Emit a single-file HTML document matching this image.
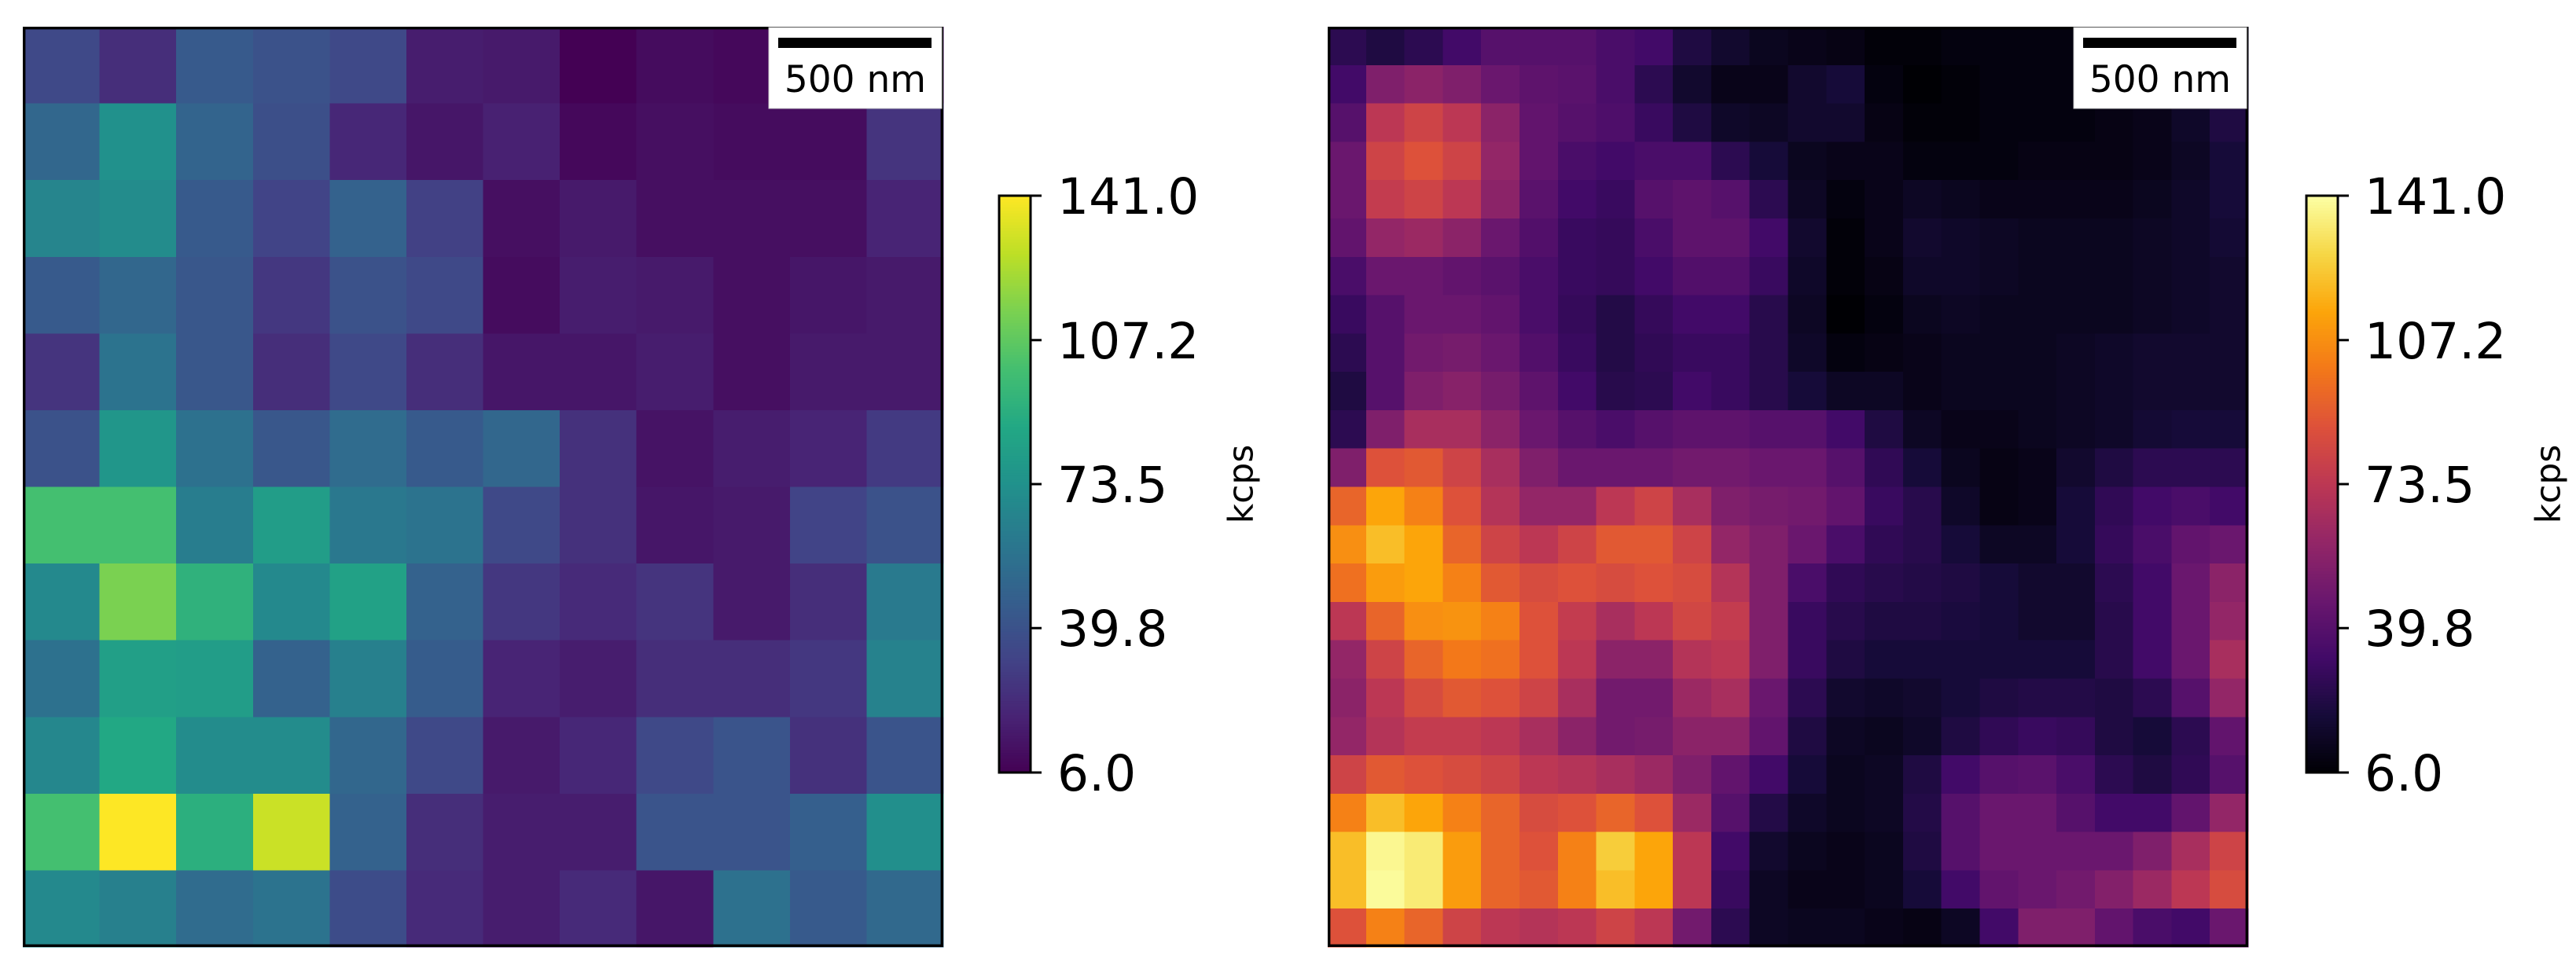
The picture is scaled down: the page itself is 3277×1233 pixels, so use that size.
<!DOCTYPE html>
<html><head><meta charset="utf-8"><style>
html,body{margin:0;padding:0;background:#fff;}
svg{display:block;}
text{font-family:"DejaVu Sans","Liberation Sans",sans-serif;fill:#000;}
</style></head><body>
<svg id="fig" width="3277" height="1233" viewBox="0 0 3277 1233" xmlns="http://www.w3.org/2000/svg">
<g id="left-panel"></g>
<g id="right-panel"></g>
</svg>
<script>
// colour scale range (kcps)
const vmin = 6.0;
const vmax = 141.0;
const tickValues = [6.0, 39.8, 73.5, 107.2, 141.0];
const tickLabels = ["6.0", "39.8", "73.5", "107.2", "141.0"];
const cbarLabel = "kcps";
const scaleLabel = "500 nm";

// left map: 12x12 intensities, expressed as fraction of colour range (0 = 6 kcps, 1 = 141 kcps)
const leftRows = [
[.22,.13,.28,.25,.22,.08,.07,.00,.03,.02,.03,.04],
[.33,.50,.32,.24,.11,.06,.09,.02,.04,.03,.03,.15],
[.45,.48,.28,.20,.31,.19,.04,.07,.04,.04,.04,.10],
[.28,.33,.27,.16,.25,.22,.03,.08,.07,.04,.06,.07],
[.15,.38,.27,.13,.22,.13,.06,.06,.08,.04,.07,.07],
[.25,.52,.37,.27,.35,.28,.33,.14,.05,.08,.10,.17],
[.70,.70,.42,.55,.40,.38,.22,.14,.06,.07,.20,.25],
[.47,.80,.64,.47,.57,.31,.16,.12,.15,.07,.13,.41],
[.37,.56,.55,.31,.43,.29,.10,.08,.13,.13,.16,.44],
[.46,.60,.48,.48,.33,.22,.07,.11,.22,.26,.14,.26],
[.70,1.0,.63,.92,.31,.13,.08,.08,.26,.26,.30,.49],
[.47,.43,.35,.38,.23,.12,.08,.12,.06,.37,.28,.34]
];

// right map: 24x24 intensities, fraction of colour range
const rightRows = [
[.15,.12,.15,.20,.25,.25,.25,.22,.20,.12,.08,.05,.04,.03,.01,.01,.02,.02,.02,.02,.02,.02,.03,.05],
[.20,.35,.38,.35,.30,.27,.26,.22,.15,.08,.04,.04,.08,.10,.02,.00,.01,.02,.02,.02,.02,.03,.05,.08],
[.25,.50,.55,.50,.38,.28,.25,.23,.18,.12,.07,.06,.08,.08,.03,.01,.01,.02,.02,.02,.03,.04,.07,.12],
[.30,.55,.60,.55,.40,.28,.22,.20,.22,.22,.15,.10,.05,.04,.04,.02,.02,.02,.03,.03,.03,.04,.06,.10],
[.30,.52,.55,.50,.38,.26,.20,.18,.25,.27,.25,.15,.06,.02,.04,.06,.05,.04,.04,.04,.04,.05,.07,.10],
[.28,.40,.42,.38,.30,.24,.18,.17,.22,.27,.27,.20,.08,.01,.04,.08,.07,.06,.05,.05,.05,.06,.07,.09],
[.22,.30,.30,.28,.26,.22,.18,.17,.20,.24,.24,.18,.07,.01,.03,.07,.07,.06,.05,.05,.05,.06,.07,.08],
[.18,.25,.30,.30,.28,.22,.17,.13,.17,.20,.20,.14,.06,.00,.02,.05,.06,.05,.05,.05,.05,.06,.07,.08],
[.15,.25,.32,.33,.30,.24,.18,.13,.16,.18,.18,.14,.07,.02,.03,.04,.05,.05,.05,.06,.07,.08,.08,.08],
[.12,.25,.35,.37,.33,.27,.20,.14,.15,.20,.18,.14,.10,.06,.06,.04,.05,.05,.05,.06,.07,.08,.08,.08],
[.15,.35,.45,.45,.38,.30,.25,.22,.25,.27,.27,.25,.25,.20,.12,.06,.04,.04,.05,.06,.07,.09,.10,.10],
[.35,.60,.62,.55,.45,.35,.30,.30,.30,.32,.32,.30,.30,.25,.16,.10,.05,.03,.04,.08,.12,.15,.15,.15],
[.65,.80,.72,.60,.48,.40,.40,.50,.55,.45,.35,.33,.32,.28,.18,.14,.07,.03,.04,.10,.16,.20,.22,.20],
[.75,.85,.80,.65,.55,.50,.55,.62,.62,.55,.40,.35,.30,.22,.16,.14,.10,.06,.06,.10,.17,.22,.28,.30],
[.68,.78,.80,.72,.62,.58,.60,.58,.60,.58,.48,.35,.22,.16,.14,.13,.12,.10,.08,.08,.15,.20,.30,.38],
[.50,.65,.75,.76,.72,.60,.52,.45,.50,.56,.52,.35,.18,.14,.12,.12,.11,.10,.08,.08,.14,.20,.30,.40],
[.40,.55,.65,.70,.68,.60,.50,.38,.38,.48,.50,.35,.18,.12,.10,.10,.10,.10,.10,.10,.14,.20,.30,.45],
[.38,.50,.58,.62,.60,.55,.45,.32,.32,.42,.45,.30,.15,.08,.07,.08,.10,.12,.13,.13,.12,.15,.25,.40],
[.40,.48,.52,.52,.50,.45,.38,.32,.33,.38,.38,.28,.12,.06,.05,.07,.12,.16,.18,.17,.12,.10,.15,.28],
[.55,.62,.60,.58,.55,.50,.48,.45,.42,.35,.28,.20,.10,.05,.06,.12,.20,.25,.26,.22,.15,.12,.16,.25],
[.72,.85,.80,.72,.65,.58,.60,.65,.60,.42,.25,.13,.07,.05,.06,.13,.25,.30,.30,.25,.20,.20,.28,.40],
[.85,.98,.95,.78,.65,.60,.72,.88,.80,.50,.20,.08,.05,.04,.05,.12,.25,.30,.30,.30,.30,.35,.45,.55],
[.85,.99,.95,.78,.65,.62,.72,.85,.80,.50,.18,.06,.04,.04,.05,.10,.20,.28,.30,.32,.36,.42,.50,.58],
[.60,.72,.65,.55,.50,.48,.50,.55,.50,.32,.15,.06,.05,.05,.04,.03,.06,.20,.35,.35,.28,.22,.20,.30]
];

const VIRIDIS = ["#440154","#482475","#414487","#355f8d","#2a788e","#21918c","#22a884","#44bf70","#7ad151","#bddf26","#fde725"];
const INFERNO = ["#000004","#160b39","#420a68","#6a176e","#932667","#bc3754","#dd513a","#f37819","#fca50a","#f6d746","#fcffa4"];
function hex(h){return [1,3,5].map(i=>parseInt(h.substr(i,2),16));}
function cmap(stops,t){
  t=Math.max(0,Math.min(1,t));
  const p=t*(stops.length-1), i=Math.min(stops.length-2,Math.floor(p)), f=p-i;
  const a=hex(stops[i]), b=hex(stops[i+1]);
  return "rgb("+a.map((v,k)=>Math.round(v+(b[k]-v)*f)).join(",")+")";
}
const NS="http://www.w3.org/2000/svg";
function el(tag,attrs,parent){const e=document.createElementNS(NS,tag);for(const k in attrs)e.setAttribute(k,attrs[k]);parent.appendChild(e);return e;}

function drawPanel(g, rows, stops, x0, cbx, prefix){
  const y0=34, size=1171;
  const n=rows.length, m=rows[0].length;
  const cw=size/m, ch=size/n;
  const cells=el("g",{"shape-rendering":"crispEdges"},g);
  
  
  rows.forEach((row,i)=>row.forEach((v,j)=>{
    const r=el("rect",{x:x0+j*cw,y:y0+i*ch,width:cw+0.6,height:ch+0.6,fill:cmap(stops,v)},cells);
    
    
  }));
  const fr=el("rect",{x:x0+1.7,y:y0+1.7,width:size-3.4,height:size-3.4,fill:"none",stroke:"#000","stroke-width":3.4},g);
  
  
  // scale bar
  const sb=el("g",{},g);
  
  
  const bx=x0+size-222;
  el("rect",{x:bx,y:y0+1,width:220,height:103,fill:"#fff",stroke:"#ccc","stroke-width":1},sb);
  el("rect",{x:bx+12,y:y0+14,width:195,height:13,fill:"#000"},sb);
  const st=el("text",{x:bx+110,y:y0+83,"text-anchor":"middle","font-size":47},sb);
  st.textContent=scaleLabel;
  
  
  // colorbar
  const cb=el("g",{},g);
  
  
  const ct=249, cbot=983, cwid=40;
  const yOf=v=>cbot-(v-vmin)/(vmax-vmin)*(cbot-ct);
  const N=200;
  for(let k=0;k<N;k++){
    el("rect",{x:cbx,y:cbot-(k+1)*(cbot-ct)/N,width:cwid,height:(cbot-ct)/N+0.8,fill:cmap(stops,(k+0.5)/N)},cb);
  }
  el("rect",{x:cbx,y:ct,width:cwid,height:cbot-ct,fill:"none",stroke:"#000","stroke-width":3},cb);
  tickValues.forEach((v,k)=>{
    const y=yOf(v);
    const tk=el("line",{x1:cbx+cwid,x2:cbx+cwid+14,y1:y,y2:y,stroke:"#000","stroke-width":3},cb);
    
    
    const t=el("text",{x:cbx+cwid+34,y:y+23,"font-size":63},cb);
    t.textContent=tickLabels[k];
    
    
  });
  const lx=cbx+cwid+268, ly=(ct+cbot)/2;
  const lab=el("text",{x:lx,y:ly,"font-size":44,"text-anchor":"middle","dominant-baseline":"central",transform:"rotate(-90 "+lx+" "+ly+")"},cb);
  lab.textContent=cbarLabel;
  
  
}
drawPanel(document.getElementById("left-panel"), leftRows, VIRIDIS, 29, 1271, "left");
drawPanel(document.getElementById("right-panel"), rightRows, INFERNO, 1689, 2934, "right");
</script>
</body></html>
